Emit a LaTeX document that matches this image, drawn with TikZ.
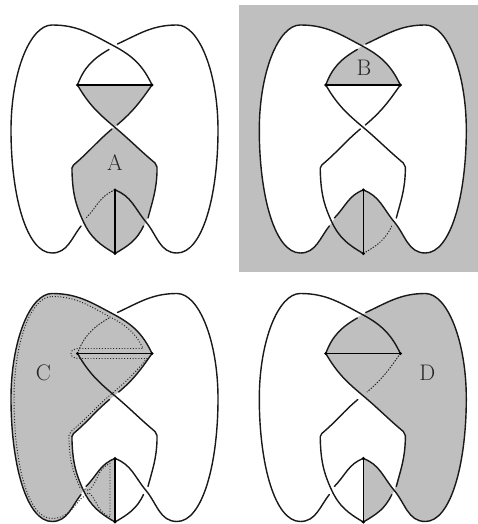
\documentclass[tikz,border=0pt]{standalone}
\usepackage{xcolor}
\colorlet{shade}{black!25}
\usepackage{tikz}
\usetikzlibrary{positioning}
\tikzset{
    strand/.style={draw=black!90, line width=1pt, line cap=round},
    chord/.style={draw=black, line width=1.1pt},
    region/.style={fill=shade},
    tracing/.style={draw=black!85, line width=0.7pt, dash pattern=on 0.7pt off 1.3pt},
    letter/.style={font=\fontsize{16}{16}\selectfont, text=black!85, inner sep=0pt},
    hv/.style={out looseness=0.5, in looseness=1.3},
    vh/.style={out looseness=1.3, in looseness=0.5},
    underL/.style={}, underV/.style={}, underR/.style={}, underB/.style={}
}
\newcommand{\knotpoints}{
    \coordinate (tl) at (52,245);
    \coordinate (xl) at (11,140);
    \coordinate (bl) at (52,17);
    \coordinate (tr) at (177,245);
    \coordinate (xr) at (218,140);
    \coordinate (br) at (177,17);
    \coordinate (ct) at (114,224);
    \coordinate (ta) at (109,220.5);
    \coordinate (tb) at (117.5,226);
    \coordinate (vl) at (77.5,185);
    \coordinate (vr) at (152,185);
    \coordinate (cm) at (114.5,143);
    \coordinate (ma) at (117,145);
    \coordinate (mb) at (112,141);
    \coordinate (kl) at (73.5,105);
    \coordinate (jl) at (72,98);
    \coordinate (kr) at (155,107);
    \coordinate (jr) at (157,98);
    \coordinate (vt) at (115,80);
    \coordinate (vb) at (115,16.5);
    \coordinate (cl) at (83.5,48);
    \coordinate (la) at (86,52);
    \coordinate (lb) at (81,44);
    \coordinate (cr) at (146,48);
    \coordinate (ra) at (148,52);
    \coordinate (rb) at (143.5,44);
}
\newcommand{\knotstrands}{
    \draw[strand, underL] (vl) to[out=70,in=210] (ta);
    \draw[strand] (tb) to[out=25,in=180] (tr) to[hv,out=0,in=90] (xr) to[vh,out=-90,in=0] (br)
        to[out=180,in=-50] (cr) to[out=130,in=-20] (vt);
    \draw[strand, underV] (vt) to[out=200,in=45] (la);
    \draw[strand] (lb) to[out=232,in=0] (bl) to[hv,out=180,in=-90] (xl) to[vh,out=90,in=180] (tl)
        to[out=0,in=152] (ct) to[out=-28,in=115] (vr);
    \draw[strand, underR] (vr) to[out=-125,in=40] (ma);
    \draw[strand] (mb) to[out=220,in=40] (kl) to[out=220,in=90] (jl)
        to[out=-88,in=115] (cl) to[out=-65,in=150] (vb);
    \draw[strand] (vl) to[out=-60,in=140] (cm) to[out=-40,in=140] (kr) to[out=-40,in=90] (jr)
        to[out=-92,in=75] (ra);
    \draw[strand, underB] (rb) to[out=-115,in=30] (vb);
    \draw[chord] (vl) -- (vr);
    \draw[chord] (vt) -- (vb);
    \foreach \p in {vl,vr,vt,vb} \fill (\p) circle (1.7);
}
\begin{document}
\begin{tikzpicture}[x=0.25mm, y=0.25mm]
    \useasboundingbox (0,-254) rectangle (478,270);
    % panel A
    \begin{scope}[underV/.style={tracing}]
        \knotpoints
        \fill[region] (vl) -- (vr) to[out=-125,in=40] (cm) to[out=220,in=40] (kl) to[out=220,in=90] (jl)
            to[out=-88,in=115] (cl) to[out=-65,in=150] (vb) to[out=30,in=-115] (cr) to[out=75,in=-92] (jr)
            to[out=90,in=-40] (kr) to[out=140,in=-40] (cm) to[out=140,in=-60] (vl) -- cycle;
        \knotstrands
        \node[letter] (labA) at (115,107) {A};
    \end{scope}
    % panel B
    \fill[region] (239,-2) rectangle (478,265);
    \begin{scope}[shift={(248.3,0)}, underB/.style={tracing}]
        \knotpoints
        \fill[white] (ct) to[out=152,in=0] (tl) to[hv,out=180,in=90] (xl) to[vh,out=-90,in=180] (bl)
            to[out=0,in=232] (cl) to[out=-65,in=150] (vb) to[out=30,in=-115] (cr) to[out=-50,in=180] (br)
            to[hv,out=0,in=-90] (xr) to[vh,out=90,in=0] (tr) to[out=180,in=25] (tb) -- cycle;
        \fill[region] (vl) to[out=70,in=210] (ct) to[out=-28,in=115] (vr) -- cycle;
        \fill[region] (vt) to[out=200,in=45] (cl) to[out=-65,in=150] (vb) to[out=30,in=-115] (cr)
            to[out=130,in=-20] (vt);
        \knotstrands
        \node[letter] (labB) at (115.7,202) {B};
    \end{scope}
    % panel C
    \begin{scope}[shift={(0,-268.5)}, underL/.style={tracing}]
        \knotpoints
        \coordinate (ma) at (118.7,146.5);
        \coordinate (mb) at (109.5,139);
        \fill[region] (ct) to[out=-28,in=115] (vr) to[out=-125,in=40] (cm) to[out=220,in=40] (kl)
            to[out=220,in=90] (jl) to[out=-88,in=115] (cl) to[out=232,in=0] (bl) to[hv,out=180,in=-90] (xl)
            to[vh,out=90,in=180] (tl) to[out=0,in=152] (ct);
        \fill[region] (cl) to[out=45,in=200] (vt) -- (vb) to[out=150,in=-65] (cl);
        \knotstrands
        % dotted trace just inside the shaded part
        \draw[tracing] (52,242) to[out=0,in=152] (111,221) to[out=-28,in=115] (143,190) -- (80,190)
            to[out=180,in=90] (71,185) to[out=-90,in=180] (80,180) -- (147,180)
            to[out=-130,in=40] (112.5,145.5) to[out=220,in=40] (71,107) to[out=220,in=90] (69,98)
            to[out=-88,in=115] (80,51) -- (89,48) to[out=45,in=200] (110,75) -- (110,22)
            to[out=165,in=-45] (89,46) -- (80,39) to[out=232,in=0] (52,20)
            to[hv,out=180,in=-90] (14,140) to[vh,out=90,in=180] (52,242);
        \node[letter] (labC) at (43.5,165.5) {C};
    \end{scope}
    % panel D
    \begin{scope}[shift={(248.3,-268.5)}, underR/.style={tracing}]
        \knotpoints
        \coordinate (ma) at (118.7,146.5);
        \coordinate (mb) at (109.5,139);
        \fill[region] (vl) to[out=70,in=210] (ct) to[out=25,in=180] (tr) to[hv,out=0,in=90] (xr)
            to[vh,out=-90,in=0] (br) to[out=180,in=-50] (cr) to[out=75,in=-92] (jr) to[out=90,in=-40] (kr)
            to[out=140,in=-40] (cm) to[out=140,in=-60] (vl) -- cycle;
        \fill[region] (vt) to[out=-20,in=130] (cr) to[out=-115,in=30] (vb) -- cycle;
        \knotstrands
        \node[letter] (labD) at (179,165.5) {D};
    \end{scope}
\end{tikzpicture}
\end{document}
